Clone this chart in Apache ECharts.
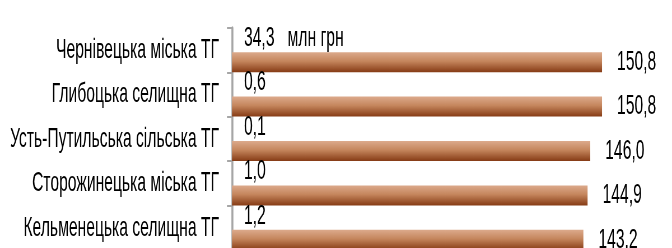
<!DOCTYPE html>
<html>
<head>
<meta charset="utf-8">
<script src="https://cdn.jsdelivr.net/npm/echarts@6/dist/echarts.min.js"></script>
<style>
    html, body { margin: 0; padding: 0; background: #fff; overflow: hidden; }
    #wrap { width: 672px; height: 248px; overflow: hidden; }
    #chart { height: 248px; transform-origin: 0 0; }
</style>
</head>
<body>
<div id="wrap"><div id="chart"></div></div>
<script>
// Data (top to bottom)
const communities = [
    'Чернівецька міська ТГ',
    'Глибоцька селищна ТГ',
    'Усть-Путильська сільська ТГ',
    'Сторожинецька міська ТГ',
    'Кельменецька селищна ТГ'
];
const smallValues = [34.3, 0.6, 0.1, 1.0, 1.2];
const bigValues = [150.8, 150.8, 146.0, 144.9, 143.2];
const unitLabel = 'млн грн';

// the original picture is squeezed horizontally, so the chart is drawn wider and scaled down
const sx = 0.56;
const chartDom = document.getElementById('chart');
chartDom.style.width = (672 / sx) + 'px';
chartDom.style.transform = 'scaleX(' + sx + ')';

const fmt = (v) => v.toFixed(1).replace('.', ',');
const fontFamily = '"Liberation Sans", Arial, sans-serif';

const chart = echarts.init(chartDom, null, { renderer: 'canvas' });

chart.setOption({
    animation: false,
    grid: {
        left: 232 / sx,
        top: 28,
        width: 392.6 / sx,
        height: 222,
        outerBoundsMode: 'none'
    },
    xAxis: {
        type: 'value',
        min: 0,
        max: 160,
        show: false
    },
    yAxis: {
        type: 'category',
        data: communities,
        inverse: true,
        axisLine: { show: true, lineStyle: { color: '#a6a6a6', width: 2 / sx } },
        axisTick: { show: true, length: 5 / sx, lineStyle: { color: '#a6a6a6', width: 2 } },
        axisLabel: {
            color: '#000',
            fontFamily: fontFamily,
            fontSize: 28,
            margin: 13 / sx
        },
        splitLine: { show: false }
    },
    series: [
        {
            // hidden series, only its labels are shown
            name: 'small',
            type: 'bar',
            data: smallValues,
            barWidth: 20,
            barGap: '20%',
            itemStyle: { color: 'rgba(0,0,0,0)' },
            label: {
                show: true,
                position: 'insideLeft',
                distance: 12 / sx,
                color: '#000',
                fontFamily: fontFamily,
                fontSize: 28,
                formatter: (p) => p.dataIndex === 0 ? fmt(p.value) + '   ' + unitLabel : fmt(p.value)
            }
        },
        {
            name: 'big',
            type: 'bar',
            data: bigValues,
            barWidth: 20,
            itemStyle: {
                color: new echarts.graphic.LinearGradient(0, 0, 0, 1, [
                    { offset: 0, color: '#dcaa8c' },
                    { offset: 0.45, color: '#c5865d' },
                    { offset: 1, color: '#863b15' }
                ])
            },
            label: {
                show: true,
                position: 'right',
                distance: 15 / sx,
                color: '#000',
                fontFamily: fontFamily,
                fontSize: 28,
                formatter: (p) => fmt(p.value)
            }
        }
    ]
});
</script>
</body>
</html>
